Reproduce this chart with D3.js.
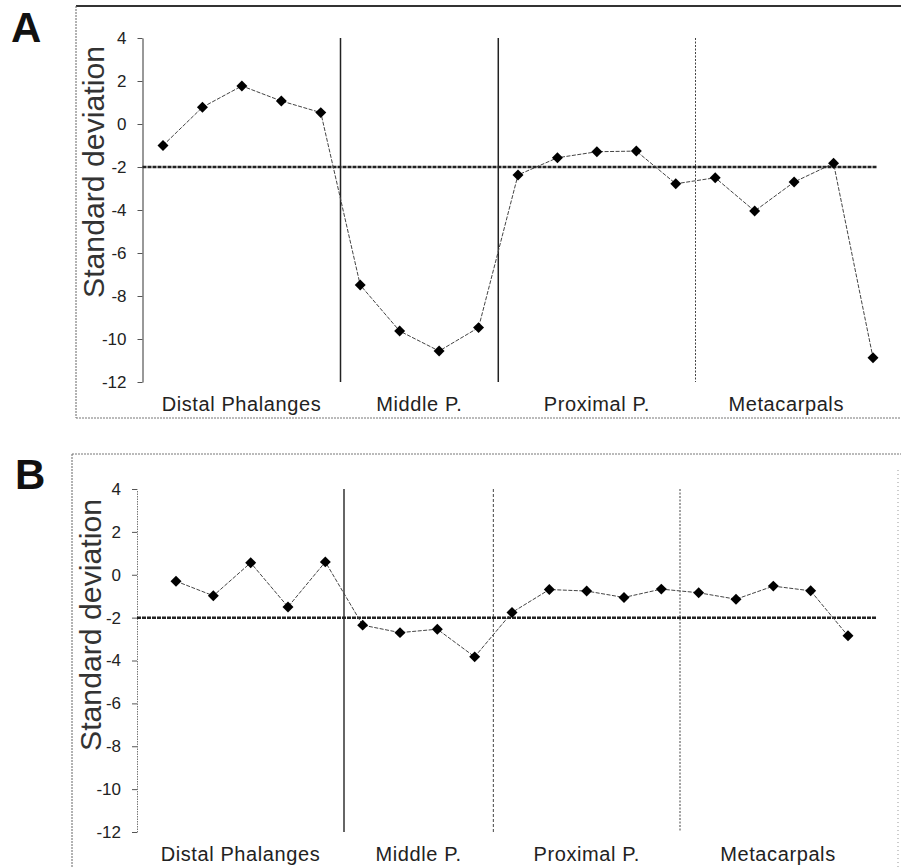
<!DOCTYPE html>
<html lang="en">
<head>
    <meta charset="UTF-8">
    <title>Standard deviation by bone</title>
    <script src="https://d3js.org/d3.v7.min.js"></script>
    <style>
        body { margin: 0; background: #fff; }
        svg { display: block; font-family: "Liberation Sans", Arial, sans-serif; }
    </style>
</head>
<body>
    <div id="chart"></div>
    <script>
        // data
        const groups = ["Distal Phalanges", "Middle P.", "Proximal P.", "Metacarpals"];
        const groupSizes = [5, 4, 5, 5];
        const sdA = [-1.0, 0.78, 1.77, 1.07, 0.53, -7.49, -9.63, -10.56, -9.47, -2.37, -1.57, -1.29, -1.26, -2.78, -2.5, -4.05, -2.7, -1.83, -10.87];
        const sdB = [-0.3, -0.98, 0.56, -1.5, 0.6, -2.35, -2.7, -2.54, -3.83, -1.76, -0.69, -0.76, -1.06, -0.67, -0.84, -1.14, -0.53, -0.75, -2.85];
        const yTicks = [4, 2, 0, -2, -4, -6, -8, -10, -12];
        const threshold = -2;
        const yLabel = "Standard deviation";

        const width = 901, height = 867;

        const svg = d3.select("#chart").append("svg")
            .attr("width", width)
            .attr("height", height);

        // layout of the two panels
        const panels = [
            {
                letter: "A", values: sdA,
                letterPos: [11, 42],
                xRange: [163, 873], yRange: [382, 38], axisX: 142.5, lineEnd: 877,
                labelY: 411, titleX: 104, titleY: 172,
                axisStyle: {stroke: "#333", dash: null},
                sepStyles: [
                    {stroke: "#222", w: 1.5, dash: null},
                    {stroke: "#222", w: 1.5, dash: null},
                    {stroke: "#444", w: 1, dash: "2,1.5"}
                ],
                frame: function (g) {
                    g.append("line").attr("x1", 76).attr("x2", width).attr("y1", 6).attr("y2", 6)
                        .attr("stroke", "#333").attr("stroke-width", 2);
                    g.append("line").attr("x1", 76).attr("x2", 76).attr("y1", 6).attr("y2", 418)
                        .attr("stroke", "#666").attr("stroke-dasharray", "2,1");
                    g.append("line").attr("x1", 76).attr("x2", width).attr("y1", 418).attr("y2", 418)
                        .attr("stroke", "#777").attr("stroke-dasharray", "2,1");
                }
            },
            {
                letter: "B", values: sdB,
                letterPos: [15, 489],
                xRange: [176, 848], yRange: [832, 489], axisX: 137, lineEnd: 876,
                labelY: 861, titleX: 101, titleY: 625,
                axisStyle: {stroke: "#777", dash: "1.5,1"},
                sepStyles: [
                    {stroke: "#666", w: 2, dash: null},
                    {stroke: "#444", w: 1, dash: "3,2"},
                    {stroke: "#444", w: 1, dash: "2,1.5"}
                ],
                frame: function (g) {
                    g.append("line").attr("x1", 72).attr("x2", width).attr("y1", 454).attr("y2", 454)
                        .attr("stroke", "#777").attr("stroke-dasharray", "2,1");
                    g.append("line").attr("x1", 72).attr("x2", 72).attr("y1", 454).attr("y2", height)
                        .attr("stroke", "#666").attr("stroke-dasharray", "2,1");
                    g.append("line").attr("x1", 898).attr("x2", 898).attr("y1", 470).attr("y2", height)
                        .attr("stroke", "#999").attr("stroke-dasharray", "1,3");
                }
            }
        ];

        // group boundaries in index space
        const starts = Array.from(d3.cumsum([0].concat(groupSizes))).slice(0, -1);
        const seps = starts.slice(1).map(s => s - 0.5);

        panels.forEach(p => {
            const n = p.values.length;
            const x = d3.scaleLinear().domain([0, n - 1]).range(p.xRange);
            const y = d3.scaleLinear().domain([-12, 4]).range(p.yRange);
            const g = svg.append("g");

            p.frame(g);

            g.append("text")
                .attr("x", p.letterPos[0]).attr("y", p.letterPos[1])
                .attr("font-size", 42).attr("font-weight", "bold").attr("fill", "#111")
                .text(p.letter);

            // y axis
            const axis = g.append("g")
                .attr("transform", `translate(${p.axisX},0)`)
                .call(d3.axisLeft(y).tickValues(yTicks).tickSize(5).tickSizeOuter(0).tickPadding(11)
                    .tickFormat(d => String(d)));
            axis.select(".domain").attr("stroke", p.axisStyle.stroke)
                .attr("stroke-dasharray", p.axisStyle.dash);
            axis.selectAll(".tick line").attr("stroke", "#555");
            axis.selectAll(".tick text").attr("font-size", 17).attr("fill", "#222")
                .attr("font-family", "'Liberation Sans', Arial, sans-serif");

            g.append("text")
                .attr("transform", `translate(${p.titleX},${p.titleY}) rotate(-90)`)
                .attr("text-anchor", "middle")
                .attr("font-size", 29).attr("fill", "#333")
                .attr("textLength", 252).attr("lengthAdjust", "spacingAndGlyphs")
                .text(yLabel);

            // group separators
            g.selectAll("line.sep").data(seps).join("line")
                .attr("class", "sep")
                .attr("x1", d => x(d)).attr("x2", d => x(d))
                .attr("y1", y(4)).attr("y2", y(-12))
                .attr("stroke", (d, i) => p.sepStyles[i].stroke)
                .attr("stroke-width", (d, i) => p.sepStyles[i].w)
                .attr("stroke-dasharray", (d, i) => p.sepStyles[i].dash);

            // threshold line
            g.append("line")
                .attr("x1", p.axisX).attr("x2", p.lineEnd)
                .attr("y1", y(threshold)).attr("y2", y(threshold))
                .attr("stroke", "#222").attr("stroke-width", 2.5)
                .attr("stroke-dasharray", "4,1");

            // group labels centred between boundaries
            const bounds = [p.axisX, ...seps.map(s => x(s)), p.lineEnd];
            g.selectAll("text.glabel").data(groups).join("text")
                .attr("class", "glabel")
                .attr("x", (d, i) => (bounds[i] + bounds[i + 1]) / 2)
                .attr("y", p.labelY)
                .attr("text-anchor", "middle")
                .attr("font-size", 20).attr("letter-spacing", 0.6).attr("fill", "#222")
                .text(d => d);

            // series
            const line = d3.line().x((d, i) => x(i)).y(d => y(d));
            g.append("path")
                .datum(p.values)
                .attr("d", line)
                .attr("fill", "none")
                .attr("stroke", "#444").attr("stroke-width", 1)
                .attr("stroke-dasharray", "4,1.5");

            const sym = d3.symbol().type(d3.symbolSquare).size(60);
            g.selectAll("path.pt").data(p.values).join("path")
                .attr("class", "pt")
                .attr("d", sym)
                .attr("transform", (d, i) => `translate(${x(i)},${y(d)}) rotate(45)`)
                .attr("fill", "#000");
        });
    </script>
</body>
</html>
